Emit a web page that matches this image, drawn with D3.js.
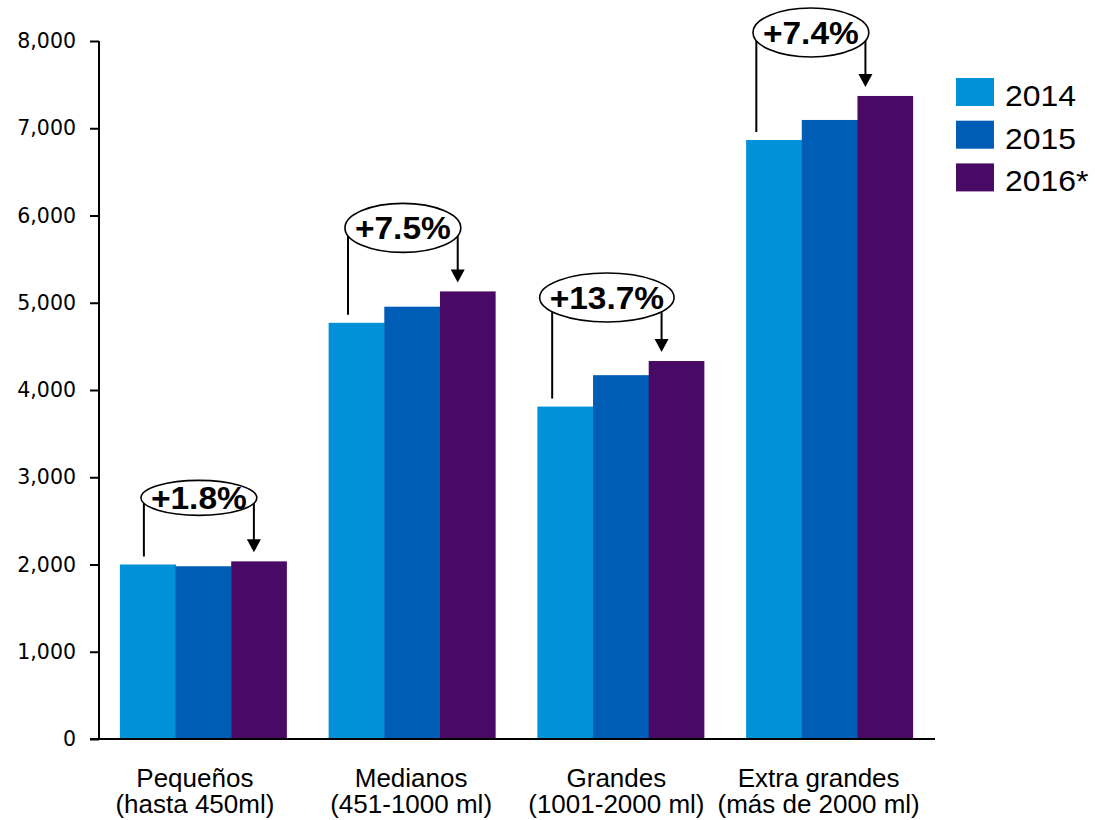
<!DOCTYPE html>
<html>
<head>
<meta charset="utf-8">
<script src="https://cdn.jsdelivr.net/npm/d3@7"></script>
<style>
  body { margin: 0; background: #fff; }
  svg text { font-family: "Liberation Sans", Arial, sans-serif; }
</style>
</head>
<body>
<div id="container"></div>
<script>
// data
var categories = ["Pequeños", "Medianos", "Grandes", "Extra grandes"];
var subLabels = ["(hasta 450ml)", "(451-1000 ml)", "(1001-2000 ml)", "(más de 2000 ml)"];
var years = ["2014", "2015", "2016*"];
var v2014 = [2000, 4770, 3810, 6865];
var v2015 = [1980, 4955, 4170, 7095];
var v2016 = [2036, 5130, 4332, 7370];
var changeLabels = ["+1.8%", "+7.5%", "+13.7%", "+7.4%"];
var yTicks = [0, 1000, 2000, 3000, 4000, 5000, 6000, 7000, 8000];

var colors = ["#0091d9", "#005db5", "#480a64"];
var ovalRy = [17.5, 24.5, 24.5, 24.5];
var labelShift = [-8.5, -1, -4.5, -11];

var width = 1095, height = 820;
var plotLeft = 99, plotRight = 934, plotTop = 41, plotBottom = 739;

var svg = d3.select('#container')
    .append('svg')
    .attr('width', width)
    .attr('height', height);

var y = d3.scaleLinear().domain([0, 8000]).range([plotBottom, plotTop]);
var x0 = d3.scaleBand().domain(categories).range([plotLeft, plotRight])
    .paddingInner(0.2).paddingOuter(0.1);
var x1 = d3.scaleBand().domain(years).range([0, x0.bandwidth()]).padding(0);

var series = [v2014, v2015, v2016];

// bars
categories.forEach(function(c, i){
    var g = svg.append('g').attr('transform', 'translate(' + x0(c) + ',0)');
    years.forEach(function(yr, j){
        var v = series[j][i];
        g.append('rect')
            .attr('x', x1(yr))
            .attr('y', y(v))
            .attr('width', x1.bandwidth() + (j < 2 ? 0.5 : 0))
            .attr('height', y(0) - y(v))
            .attr('fill', colors[j]);
    });
});

// y axis
var yAxis = d3.axisLeft(y).tickValues(yTicks).tickSize(9).tickPadding(14)
    .tickFormat(d3.format(','));
var ya = svg.append('g').attr('transform', 'translate(' + plotLeft + ',0)').call(yAxis);
ya.select('.domain').attr('stroke', '#000').attr('stroke-width', 2)
    .attr('d', 'M0,' + plotTop + 'V' + plotBottom);
ya.selectAll('.tick line').attr('stroke', '#000').attr('stroke-width', 2);
ya.selectAll('.tick text')
    .attr('fill', '#000')
    .style('font-family', '"DejaVu Sans", Verdana, sans-serif')
    .style('font-size', '20.5px');

// x axis line
svg.append('line')
    .attr('x1', plotLeft - 9).attr('x2', plotRight + 1)
    .attr('y1', y(0)).attr('y2', y(0))
    .attr('stroke', '#000').attr('stroke-width', 2);

// category labels
categories.forEach(function(c, i){
    var cx = x0(c) + x0.bandwidth() / 2 + labelShift[i];
    svg.append('text').attr('x', cx).attr('y', 787)
        .attr('text-anchor', 'middle').style('font-size', '26px').text(c);
    svg.append('text').attr('x', cx).attr('y', 812.5)
        .attr('text-anchor', 'middle').style('font-size', '26px').text(subLabels[i]);
});

// growth annotations
categories.forEach(function(c, i){
    var lx = x0(c) + 24 - 4.6 * i;
    var ax = x0(c) + 134 - 4.9 * i;
    var cy = y(v2016[i]) - 63.5;
    var cx = (lx + ax) / 2;
    var tip = y(v2016[i]) - 9;

    svg.append('line')
        .attr('x1', lx).attr('x2', lx)
        .attr('y1', cy).attr('y2', y(v2014[i]) - 8)
        .attr('stroke', '#000').attr('stroke-width', 2);
    svg.append('line')
        .attr('x1', ax).attr('x2', ax)
        .attr('y1', cy).attr('y2', tip - 12)
        .attr('stroke', '#000').attr('stroke-width', 2);
    svg.append('path')
        .attr('d', 'M' + (ax - 7) + ',' + (tip - 13) + 'L' + (ax + 7) + ',' + (tip - 13) + 'L' + ax + ',' + tip + 'Z')
        .attr('fill', '#000');

    var el = svg.append('ellipse')
        .attr('cx', cx).attr('cy', cy)
        .attr('ry', ovalRy[i])
        .attr('fill', '#fff').attr('stroke', '#000').attr('stroke-width', 1.6);
    var t = svg.append('text')
        .attr('transform', 'translate(' + cx + ',' + (cy + 11.5) + ') scale(1.08,1)')
        .attr('text-anchor', 'middle')
        .style('font-size', '31px').style('font-weight', 'bold')
        .text(changeLabels[i]);
    var tw = t.node().getBBox().width * 1.08;
    el.attr('rx', Math.max(57.5, tw / 2 + 10));
});

// legend
years.forEach(function(yr, j){
    var ly = 78 + j * 42.7;
    svg.append('rect')
        .attr('x', 956).attr('y', ly)
        .attr('width', 38).attr('height', 28)
        .attr('fill', colors[j]);
    svg.append('text')
        .attr('transform', 'translate(1005,' + (ly + 28) + ') scale(1.1,1)')
        .style('font-size', '29px')
        .text(yr);
});
</script>
</body>
</html>
